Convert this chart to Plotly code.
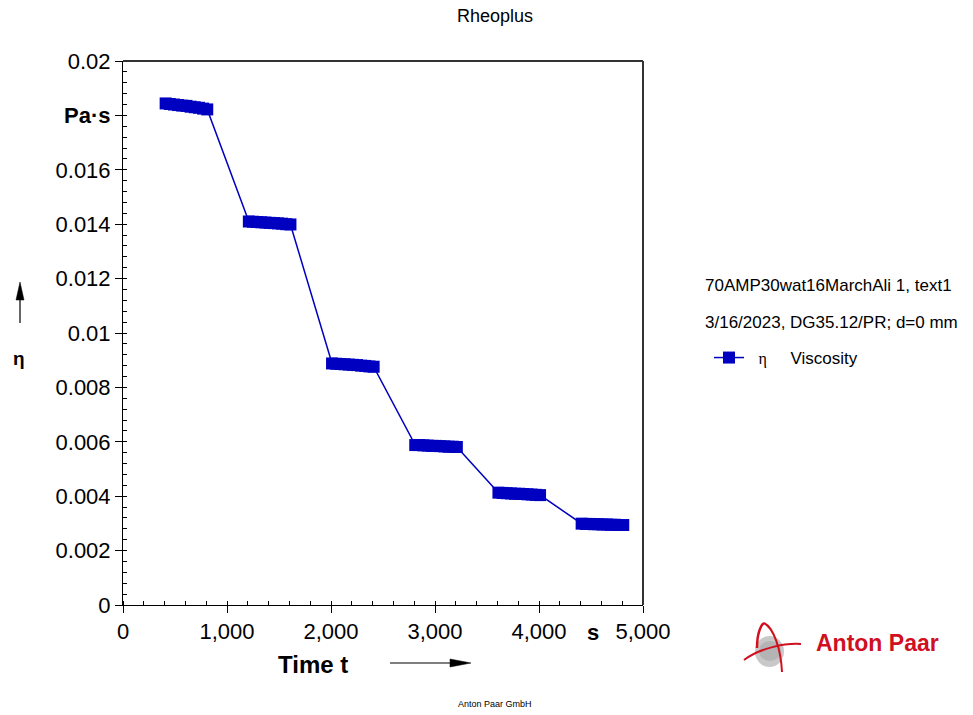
import plotly.graph_objects as go

# ---- data ----
time_s = [
    410, 450, 490, 530, 570, 610, 650, 690, 730, 770, 810,
    1210, 1250, 1290, 1330, 1370, 1410, 1450, 1490, 1530, 1570, 1610,
    2010, 2050, 2090, 2130, 2170, 2210, 2250, 2290, 2330, 2370, 2410,
    2810, 2850, 2890, 2930, 2970, 3010, 3050, 3090, 3130, 3170, 3210,
    3610, 3650, 3690, 3730, 3770, 3810, 3850, 3890, 3930, 3970, 4010,
    4410, 4450, 4490, 4530, 4570, 4610, 4650, 4690, 4730, 4770, 4810,
]
viscosity = [
    0.01844, 0.01842, 0.01840, 0.01838, 0.01836, 0.01835, 0.01832, 0.01830, 0.01828, 0.01825, 0.01822,
    0.01410, 0.01409, 0.01408, 0.01407, 0.01406, 0.01405, 0.01404, 0.01403, 0.01402, 0.01400, 0.01399,
    0.00888, 0.00887, 0.00886, 0.00885, 0.00884, 0.00883, 0.00882, 0.00880, 0.00879, 0.00877, 0.00876,
    0.00588, 0.00588, 0.00587, 0.00586, 0.00585, 0.00585, 0.00584, 0.00583, 0.00582, 0.00582, 0.00581,
    0.00413, 0.00412, 0.00411, 0.00410, 0.00409, 0.00409, 0.00408, 0.00407, 0.00406, 0.00405, 0.00404,
    0.00299, 0.00298, 0.00298, 0.00297, 0.00297, 0.00296, 0.00296, 0.00295, 0.00295, 0.00294, 0.00294,
]
x_tickvals = [0, 1000, 2000, 3000, 4000, 5000]
x_ticktext = ["0", "1,000", "2,000", "3,000", "4,000", "5,000"]
y_tickvals = [0, 0.002, 0.004, 0.006, 0.008, 0.01, 0.012, 0.014, 0.016, 0.018, 0.02]
y_ticktext = ["0", "0.002", "0.004", "0.006", "0.008", "0.01", "0.012", "0.014", "0.016",
              "<b>Pa·s</b>", "0.02"]

W, H = 973, 715
L, R, T, B = 123, 643, 61, 605
PW, PH = R - L, B - T


def px(x):
    return (x - L) / PW


def py(y):
    return (B - y) / PH


FONT = "Liberation Sans, Arial, sans-serif"
BLUE = "#0000C0"
RED = "#D0101E"

fig = go.Figure()
fig.add_trace(go.Scatter(
    x=time_s, y=viscosity, mode="lines+markers",
    name='&nbsp;&nbsp;<span style="font-family:Liberation Serif, serif; font-size:16px">η</span>&nbsp;&nbsp;&nbsp;&nbsp;&nbsp;Viscosity',
    line=dict(color=BLUE, width=1.5),
    marker=dict(symbol="square", size=12, color=BLUE),
))
# invisible helper trace for overlay axis (inside major ticks)
fig.add_trace(go.Scatter(x=[0], y=[0], xaxis="x2", yaxis="y2", mode="markers",
                         marker=dict(opacity=0), showlegend=False, hoverinfo="skip"))

axis_common = dict(showgrid=False, zeroline=False, showline=True, linecolor="black",
                   linewidth=1, ticks="outside", ticklen=7, tickcolor="black",
                   tickfont=dict(family=FONT, size=22, color="black"))

fig.update_layout(
    width=W, height=H,
    margin=dict(l=L, r=W - R, t=T, b=H - B, pad=0),
    paper_bgcolor="white", plot_bgcolor="white",
    title=dict(text="Rheoplus", x=495 / W, xanchor="center", y=1 - 16 / H, yanchor="middle",
               font=dict(family=FONT, size=18, color="black")),
    xaxis=dict(range=[0, 5000], tickvals=x_tickvals, ticktext=x_ticktext,
               minor=dict(dtick=200, ticks="inside", ticklen=4, tickcolor="black"),
               **axis_common),
    yaxis=dict(range=[0, 0.02], tickvals=y_tickvals, ticktext=y_ticktext,
               minor=dict(dtick=0.0004, ticks="inside", ticklen=4, tickcolor="black"),
               **axis_common),
    xaxis2=dict(range=[0, 5000], overlaying="x", tickvals=x_tickvals, ticks="inside",
                ticklen=4, tickcolor="black", showticklabels=False, showgrid=False,
                zeroline=False, showline=False),
    yaxis2=dict(range=[0, 0.02], overlaying="y", tickvals=y_tickvals, ticks="inside",
                ticklen=4, tickcolor="black", showticklabels=False, showgrid=False,
                zeroline=False, showline=False),
    showlegend=True,
    legend=dict(x=px(709), y=py(358), xanchor="left", yanchor="middle",
                font=dict(family=FONT, size=17, color="black"),
                bgcolor="rgba(0,0,0,0)", itemwidth=30),
)

annotations = [
    dict(text="70AMP30wat16MarchAli 1, text1", x=px(703), y=py(285)),
    dict(text="3/16/2023, DG35.12/PR; d=0 mm", x=px(703), y=py(322)),
]
for a in annotations:
    fig.add_annotation(xref="paper", yref="paper", xanchor="left", yanchor="middle",
                       showarrow=False, font=dict(family=FONT, size=17, color="black"), **a)

# axis titles
fig.add_annotation(text="<b>Time t</b>", xref="paper", yref="paper", x=px(313), y=py(664),
                   xanchor="center", yanchor="middle", showarrow=False,
                   font=dict(family=FONT, size=24, color="black"))
fig.add_annotation(text="<b>η</b>", xref="paper", yref="paper", x=px(19), y=py(358),
                   xanchor="center", yanchor="middle", showarrow=False,
                   font=dict(family=FONT, size=19, color="black"))
fig.add_annotation(text="<b>s</b>", xref="paper", yref="paper", x=px(593), y=py(632),
                   xanchor="center", yanchor="middle", showarrow=False,
                   font=dict(family=FONT, size=22, color="black"))
fig.add_annotation(text="Anton Paar GmbH", xref="paper", yref="paper", x=px(495), y=py(704),
                   xanchor="center", yanchor="middle", showarrow=False,
                   font=dict(family=FONT, size=9, color="black"))
fig.add_annotation(text="<b>Anton Paar</b>", xref="paper", yref="paper", x=px(877), y=py(643),
                   xanchor="center", yanchor="middle", showarrow=False,
                   font=dict(family=FONT, size=23, color=RED))

shapes = []
# top/right frame
shapes.append(dict(type="line", xref="paper", yref="paper", x0=0, x1=1, y0=1, y1=1,
                   line=dict(color="#333333", width=2)))
shapes.append(dict(type="line", xref="paper", yref="paper", x0=1, x1=1, y0=0, y1=1,
                   line=dict(color="#333333", width=2)))
# x-title arrow
shapes.append(dict(type="line", xref="paper", yref="paper", x0=px(390), x1=px(452),
                   y0=py(663), y1=py(663), line=dict(color="black", width=1.2)))
shapes.append(dict(type="path", xref="paper", yref="paper",
                   path=f"M {px(450)},{py(659)} L {px(471)},{py(663)} L {px(450)},{py(667)} Z",
                   fillcolor="black", line=dict(color="black", width=0.5)))
# y-title arrow
shapes.append(dict(type="line", xref="paper", yref="paper", x0=px(20), x1=px(20),
                   y0=py(323), y1=py(298), line=dict(color="black", width=1.2)))
shapes.append(dict(type="path", xref="paper", yref="paper",
                   path=f"M {px(16)},{py(300)} L {px(20)},{py(282)} L {px(24)},{py(300)} Z",
                   fillcolor="black", line=dict(color="black", width=0.5)))


# logo: gray sphere and red swooshes
def pth(points):
    s = "M " + " L ".join(f"{px(a)},{py(b)}" for a, b in points[:1])
    s += " C " + " ".join(f"{px(a)},{py(b)}" for a, b in points[1:])
    return s


shapes.append(dict(type="circle", xref="paper", yref="paper",
                   x0=px(755), x1=px(784), y0=py(667), y1=py(636),
                   fillcolor="#C8C8C8", line=dict(color="#C8C8C8", width=0)))
shapes.append(dict(type="circle", xref="paper", yref="paper",
                   x0=px(759), x1=px(781), y0=py(661), y1=py(641),
                   fillcolor="#B4B4B4", line=dict(width=0)))
shapes.append(dict(type="path", xref="paper", yref="paper",
                   path=pth([(757, 648), (757, 633), (761, 625), (764, 623)]),
                   line=dict(color=RED, width=2.5)))
shapes.append(dict(type="path", xref="paper", yref="paper",
                   path=pth([(764, 623), (774, 628), (781, 650), (782, 672)]),
                   line=dict(color=RED, width=2)))
shapes.append(dict(type="path", xref="paper", yref="paper",
                   path=pth([(744, 660), (760, 648), (785, 643), (801, 644)]),
                   line=dict(color=RED, width=2)))
fig.update_layout(shapes=shapes)

fig.write_html("out.html", config={"displayModeBar": False},
               post_script="document.body.style.margin='0';")
